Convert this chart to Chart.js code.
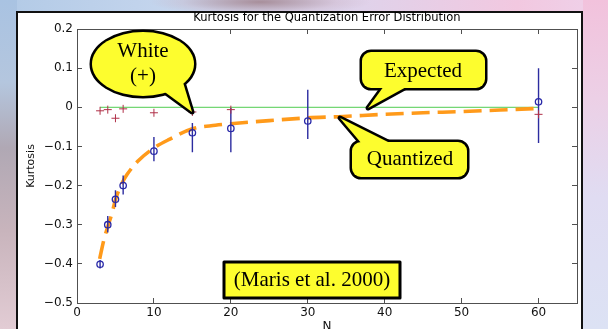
<!DOCTYPE html>
<html><head><meta charset="utf-8">
<script src="https://cdn.jsdelivr.net/npm/chart.js@4/dist/chart.umd.min.js"></script>
<style>
html,body{margin:0;padding:0;width:608px;height:329px;overflow:hidden;}
#bg{position:absolute;left:0;top:0;width:608px;height:329px;background:linear-gradient(90deg,#b2cae6 0%,#c6d6ee 30%,#e0d2ea 60%,#f2c8e0 85%,#eed2ea 100%);}
#topblob{position:absolute;left:150px;top:0;width:240px;height:14px;background:radial-gradient(ellipse 110px 14px at 110px 2px, rgba(160,130,140,0.85), rgba(200,170,185,0.3) 70%, rgba(0,0,0,0));}
#leftstrip{position:absolute;left:0;top:0;width:17px;height:329px;background:linear-gradient(180deg,#a9c3e2 0%,#b4c6de 25%,#b0a8b4 45%,#c8b4bc 70%,#e2ccd4 100%);}
#rightstrip{position:absolute;left:583px;top:0;width:25px;height:329px;background:linear-gradient(180deg,#f2c2dc 0%,#ecd0e6 30%,#e0dcf2 60%,#dce2f4 100%);}
#panel{position:absolute;left:16px;top:11px;width:567px;height:400px;box-sizing:border-box;border:2px solid #111;background:#fff;}
#c{position:absolute;left:0;top:0;}
</style></head>
<body>
<div id="bg"></div><div id="topblob"></div><div id="leftstrip"></div><div id="rightstrip"></div>
<div id="panel"></div>
<canvas id="c" width="608" height="345"></canvas>
<script>
const chartTitle = 'Kurtosis for the Quantization Error Distribution';
const xAxisTitle = 'N';
const yAxisTitle = 'Kurtosis';

const xTickValues = [0, 10, 20, 30, 40, 50, 60];
const xTickLabels = ['0', '10', '20', '30', '40', '50', '60'];
const yTickValues = [-0.5, -0.4, -0.3, -0.2, -0.1, 0, 0.1, 0.2];
const yTickLabels = ['\u22120.5', '\u22120.4', '\u22120.3', '\u22120.2', '\u22120.1', '0', '0.1', '0.2'];

// Quantized (o with error bars)
const nQuantized = [3, 4, 5, 6, 10, 15, 20, 30, 60];
const kQuantized = [-0.401, -0.300, -0.235, -0.200, -0.112, -0.065, -0.054, -0.035, 0.014];
const errLow  = [-0.412, -0.320, -0.255, -0.223, -0.138, -0.115, -0.115, -0.081, -0.091];
const errHigh = [-0.390, -0.278, -0.212, -0.174, -0.076, -0.040, -0.002, 0.045, 0.100];

// White (+)
const nWhite = [3, 4, 5, 6, 10, 15, 20, 60];
const kWhite = [-0.009, -0.006, -0.028, -0.004, -0.014, -0.012, -0.006, -0.018];

// Expected (zero line)
const nExpected = [3, 60];
const kExpected = [0, 0];

// Dashed fitted curve
const nFit = [2.95, 3.5, 4, 4.6, 5, 5.7, 6.5, 8, 10, 12, 15, 18, 20, 25, 30, 34, 40, 45, 50, 55, 60];
const kFit = [-0.387, -0.338, -0.305, -0.267, -0.236, -0.200, -0.172, -0.136, -0.104, -0.082, -0.055, -0.046, -0.042, -0.034, -0.027, -0.024, -0.018, -0.014, -0.011, -0.007, -0.003];

const pts = (xs, ys) => xs.map((x, i) => ({x: x, y: ys[i]}));
const errData = [];
nQuantized.forEach((n, i) => {
  errData.push({x: n, y: errLow[i]}, {x: n, y: errHigh[i]}, {x: n, y: null});
});

const callouts = {
  id: 'callouts',
  afterDraw(chart) {
    const ctx = chart.ctx, a = chart.chartArea;
    ctx.save();
    ctx.font = '11.5px "DejaVu Sans"';
    ctx.fillStyle = '#000';
    ctx.textAlign = 'center';
    ctx.textBaseline = 'middle';
    ctx.fillText(chartTitle, (a.left + a.right) / 2, 18);

    const yellow = '#fdfd2e';
    function bubble(shape, tail) {
      ctx.lineJoin = 'round';
      ctx.lineWidth = 5;
      ctx.strokeStyle = '#000';
      ctx.beginPath(); shape(); ctx.stroke();
      ctx.beginPath(); ctx.moveTo(tail[0][0], tail[0][1]);
      tail.slice(1).forEach(p => ctx.lineTo(p[0], p[1])); ctx.closePath(); ctx.stroke();
      ctx.fillStyle = yellow;
      ctx.beginPath(); shape(); ctx.fill();
      ctx.beginPath(); ctx.moveTo(tail[0][0], tail[0][1]);
      tail.slice(1).forEach(p => ctx.lineTo(p[0], p[1])); ctx.closePath(); ctx.fill();
    }
    bubble(() => ctx.ellipse(143, 64, 51, 32, 0, 0, Math.PI * 2), [[162, 90], [182, 79], [192, 112]]);
    bubble(() => ctx.roundRect(362, 52, 123, 36, 9), [[384, 86], [408, 86], [368, 108]]);
    bubble(() => ctx.roundRect(352, 142, 115, 35, 9), [[362, 144], [392, 144], [340, 118]]);

    ctx.fillStyle = yellow;
    ctx.fillRect(224, 262, 176, 36);
    ctx.lineWidth = 3;
    ctx.strokeStyle = '#000';
    ctx.strokeRect(224, 262, 176, 36);

    ctx.fillStyle = '#000';
    ctx.font = '21px "Liberation Serif"';
    ctx.fillText('White', 143, 51);
    ctx.fillText('(+)', 143, 76);
    ctx.fillText('Expected', 423, 71);
    ctx.fillText('Quantized', 410, 159);
    ctx.fillText('(Maris et al. 2000)', 312, 280);
    ctx.restore();
  }
};

const axisColor = '#505050';
const tickFont = {family: 'DejaVu Sans', size: 12};
function xAxis(pos, show) {
  return {
    type: 'linear', position: pos, min: 0, max: 65, offset: false,
    afterBuildTicks: s => { s.ticks = xTickValues.map(v => ({value: v})); },
    afterFit: s => { s.height = show ? 42 : 0; },
    ticks: {display: show, callback: (v, i) => xTickLabels[i], font: tickFont, color: '#111', padding: 8, maxRotation: 0, autoSkip: false},
    grid: {drawOnChartArea: false, drawTicks: true, tickLength: -5, color: axisColor, lineWidth: 1},
    border: {display: true, color: axisColor, width: 1},
    title: {display: show, text: xAxisTitle, font: {family: 'DejaVu Sans', size: 12}, color: '#111', padding: {top: 0, bottom: 11}}
  };
}
function yAxis(pos, show) {
  return {
    type: 'linear', position: pos, min: -0.5, max: 0.2,
    afterBuildTicks: s => { s.ticks = yTickValues.map(v => ({value: v})); },
    afterFit: s => { s.width = show ? 77 : 0; },
    ticks: {display: show, callback: (v, i) => yTickLabels[i], font: tickFont, color: '#111', padding: 9, autoSkip: false},
    grid: {drawOnChartArea: false, drawTicks: true, tickLength: -5, color: axisColor, lineWidth: 1},
    border: {display: true, color: axisColor, width: 1},
    title: {display: show, text: yAxisTitle, font: {family: 'DejaVu Sans', size: 11}, color: '#111', padding: {top: 25, bottom: 0}}
  };
}

new Chart(document.getElementById('c'), {
  type: 'scatter',
  data: {
    datasets: [
      {type: 'scatter', label: 'White', data: pts(nWhite, kWhite), pointStyle: 'cross', pointRadius: 4,
       borderColor: '#b03048', backgroundColor: '#b03048', borderWidth: 1, order: 0, xAxisID: 'x', yAxisID: 'y'},
      {type: 'scatter', label: 'Quantized', data: pts(nQuantized, kQuantized), pointStyle: 'circle', pointRadius: 3.2,
       borderColor: '#2828a8', backgroundColor: 'rgba(0,0,0,0)', borderWidth: 1.3, order: 1, xAxisID: 'x', yAxisID: 'y'},
      {type: 'line', label: 'Error', data: errData, borderColor: '#2c2ca0', borderWidth: 1.4, pointRadius: 0,
       spanGaps: false, fill: false, order: 2, xAxisID: 'x', yAxisID: 'y'},
      {type: 'line', label: 'Fit', data: pts(nFit, kFit), borderColor: '#ff9a1a', borderWidth: 3.6, borderDash: [18, 8],
       borderCapStyle: 'butt', pointRadius: 0, cubicInterpolationMode: 'monotone', fill: false, order: 3, xAxisID: 'x', yAxisID: 'y'},
      {type: 'line', label: 'Expected', data: pts(nExpected, kExpected), borderColor: '#4fcc4f', borderWidth: 1,
       pointRadius: 0, fill: false, order: 4, xAxisID: 'x', yAxisID: 'y'}
    ]
  },
  options: {
    responsive: false, animation: false, devicePixelRatio: 1, events: [],
    layout: {padding: {left: 0, right: 31, top: 29, bottom: 0}},
    plugins: {legend: {display: false}, tooltip: {enabled: false}, title: {display: false}},
    scales: {
      x: xAxis('bottom', true),
      x2: xAxis('top', false),
      y: yAxis('left', true),
      y2: yAxis('right', false)
    }
  },
  plugins: [callouts]
});
</script>
</body></html>
